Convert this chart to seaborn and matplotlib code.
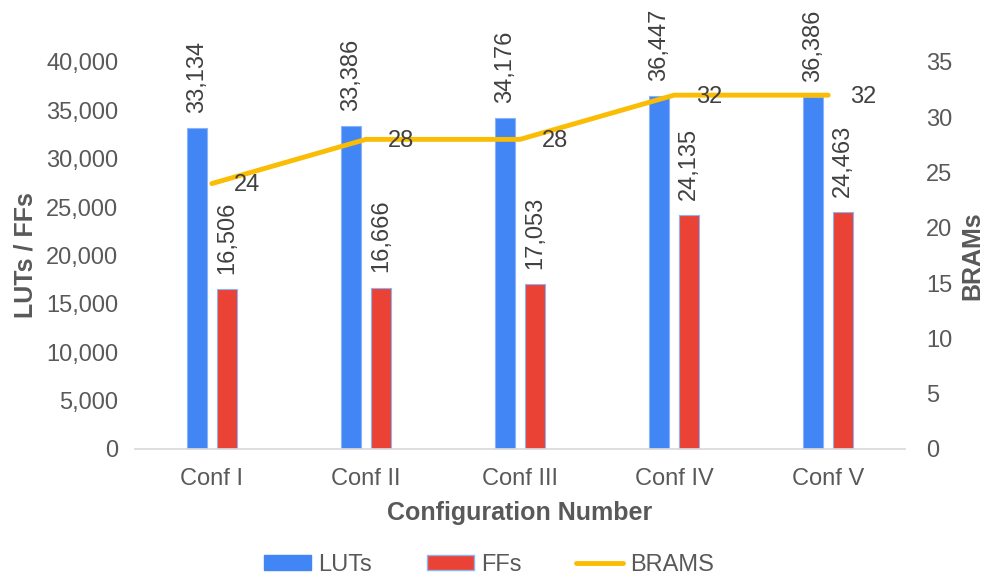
import pandas as pd
import seaborn as sns
import matplotlib.pyplot as plt
from matplotlib.lines import Line2D
from matplotlib.patches import Patch
from matplotlib.ticker import FuncFormatter

configs = ['Conf I', 'Conf II', 'Conf III', 'Conf IV', 'Conf V']
luts = [33134, 33386, 34176, 36447, 36386]
ffs = [16506, 16666, 17053, 24135, 24463]
brams = [24, 28, 28, 32, 32]

blue = '#4285F4'
red = '#EA4335'
yellow = '#FBBC04'
grey = '#595959'

sns.set_theme(style='white')
plt.rcParams['font.family'] = ['Liberation Sans', 'DejaVu Sans']

df = pd.DataFrame({'Config': configs * 2,
                   'Value': luts + ffs,
                   'Kind': ['LUTs'] * 5 + ['FFs'] * 5})

fig = plt.figure(figsize=(9.84, 5.74), dpi=100)
ax = fig.add_axes([0.137, 0.218, 0.783, 0.674])

sns.barplot(data=df, x='Config', y='Value', hue='Kind', ax=ax,
            palette=[blue, red], width=0.39, gap=0.33, saturation=1,
            edgecolor='#8AB4F8', linewidth=0.8, legend=False)

ax.set_ylim(0, 40000)
ax.set_xlim(-0.5, 4.5)
ax.set_yticks(range(0, 40001, 5000))
ax.yaxis.set_major_formatter(FuncFormatter(lambda v, p: f'{int(v):,}'))
for s in ['top', 'right', 'left']:
    ax.spines[s].set_visible(False)
ax.spines['bottom'].set_color('#D9D9D9')
ax.tick_params(axis='y', colors=grey, labelsize=17, length=0, pad=12)
ax.tick_params(axis='x', colors=grey, labelsize=17, length=0, pad=14)
ax.set_ylabel('LUTs / FFs', fontsize=18, fontweight='bold', color=grey,
              labelpad=6)
ax.set_xlabel('Configuration Number', fontsize=18, fontweight='bold',
              color=grey, labelpad=8)

# value labels on the bars
for cont in ax.containers:
    ax.bar_label(cont, labels=[f'{int(b.get_height()):,}' for b in cont],
                 rotation=90, padding=11, fontsize=17, color='#404040')

ax2 = ax.twinx()
sns.lineplot(x=list(range(5)), y=brams, ax=ax2, color=yellow, linewidth=3.5,
             solid_capstyle='round')
ax2.set_ylim(0, 35)
ax2.set_yticks(range(0, 36, 5))
for s in ax2.spines.values():
    s.set_visible(False)
ax2.tick_params(axis='y', colors=grey, labelsize=17, length=0, pad=15)
ax2.set_ylabel('BRAMs', fontsize=18, fontweight='bold', color=grey,
               labelpad=6)
for i, v in enumerate(brams):
    ax2.annotate(str(v), (i, v), xytext=(16, -1), textcoords='offset points',
                 ha='left', va='center', fontsize=17, color='#404040')

handles = [Patch(facecolor=blue, edgecolor=blue),
           Patch(facecolor=red, edgecolor='#8AB4F8'),
           Line2D([0], [0], color=yellow, linewidth=3.5,
                  solid_capstyle='round')]
fig.legend(handles, ['LUTs', 'FFs', 'BRAMS'], loc='lower center',
           bbox_to_anchor=(0.497, -0.04), ncol=3, frameon=False,
           fontsize=17, handlelength=2.0, handleheight=0.6,
           handletextpad=0.3, columnspacing=2.3, labelcolor=grey)

fig.savefig('out.png', dpi=100)
